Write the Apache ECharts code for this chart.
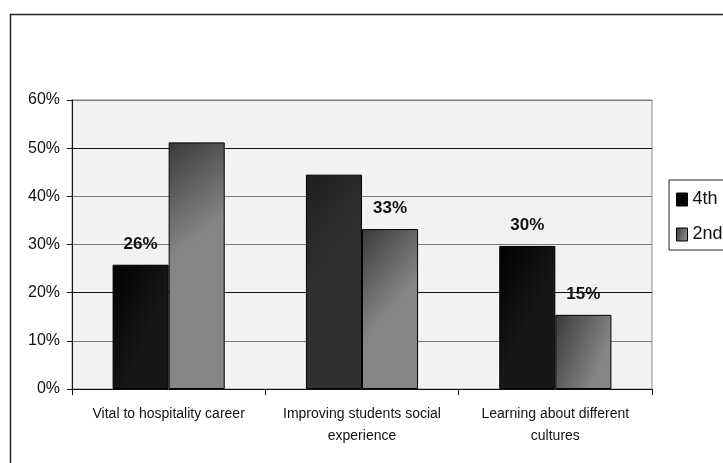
<!DOCTYPE html>
<html>
<head>
<meta charset="utf-8">
<script src="https://cdn.jsdelivr.net/npm/echarts@6/dist/echarts.min.js"></script>
<style>
html,body{margin:0;padding:0;background:#fff;}
#chart{width:723px;height:463px;}
</style>
</head>
<body>
<div id="chart"></div>
<script>
const categories = ['Vital to hospitality career', 'Improving students social\nexperience', 'Learning about different\ncultures'];
const seriesNames = ['4th', '2nd'];
const values4th = [25.8, 44.5, 29.7];
const values2nd = [51.2, 33.2, 15.4];
const labels4th = [true, false, true];
const labels2nd = [false, true, true];
const yTicks = [0, 10, 20, 30, 40, 50, 60];

const FONT = '"Liberation Sans", Arial, sans-serif';
const chart = echarts.init(document.getElementById('chart'), null, {renderer: 'canvas'});

function grad(c1, c2, y2) {
  return new echarts.graphic.LinearGradient(0, 0, 1, y2, [{offset: 0, color: c1}, {offset: 1, color: c2}]);
}
const dark4th = [grad('#000000', '#171717', 0.2), grad('#1e1e1e', '#303030', 0.2), grad('#000000', '#171717', 0.2)];
const gray2nd = grad('#3a3a3a', '#858585', 0.3);

function labelCfg(flags) {
  return {
    show: true,
    position: 'top',
    distance: 12,
    fontFamily: FONT,
    fontSize: 17,
    fontWeight: 'bold',
    color: '#111',
    formatter: p => flags[p.dataIndex] ? Math.round(p.value) + '%' : ''
  };
}

chart.setOption({
  animation: false,
  backgroundColor: '#ffffff',
  graphic: [{
    type: 'rect', left: 8, top: 12, z: 100, silent: true,
    shape: {x: 0, y: 0, width: 800, height: 600},
    style: {fill: 'none', stroke: '#222', lineWidth: 1.5}
  }],
  grid: {
    left: 72, right: 71, top: 100, bottom: 74,
    show: true, backgroundColor: '#f2f2f2', borderColor: '#888', borderWidth: 1
  },
  legend: {
    left: 669, top: 180, orient: 'vertical',
    itemWidth: 11, itemHeight: 13, itemGap: 14,
    padding: [9, 40, 5, 7],
    borderColor: '#222', borderWidth: 1, backgroundColor: '#fff',
    icon: 'rect',
    textStyle: {fontFamily: FONT, fontSize: 18, lineHeight: 21, color: '#111'},
    data: [
      {name: seriesNames[0], itemStyle: {color: '#050505', borderColor: '#000', borderWidth: 1}},
      {name: seriesNames[1], itemStyle: {color: gray2nd, borderColor: '#000', borderWidth: 1}}
    ]
  },
  xAxis: {
    type: 'category',
    data: categories,
    axisLine: {lineStyle: {color: '#111', width: 1}},
    axisTick: {show: true, length: 6, lineStyle: {color: '#111'}},
    axisLabel: {fontFamily: FONT, fontSize: 14, lineHeight: 22, color: '#111', margin: 14, interval: 0}
  },
  yAxis: {
    type: 'value',
    min: yTicks[0], max: yTicks[yTicks.length - 1], interval: 10,
    axisLine: {show: true, lineStyle: {color: '#111', width: 1}},
    axisTick: {show: true, length: 5, lineStyle: {color: '#111'}},
    axisLabel: {fontFamily: FONT, fontSize: 16, color: '#111', margin: 12, formatter: '{value}%'},
    splitLine: {show: true, lineStyle: {color: ['#111', '#7a7a7a', '#111', '#7a7a7a', '#7a7a7a', '#111', '#7a7a7a'], width: 1}}
  },
  series: [
    {
      name: seriesNames[0], type: 'bar', data: values4th,
      barGap: '0%', barCategoryGap: '42%',
      itemStyle: {color: p => dark4th[p.dataIndex] || '#000', borderColor: '#000', borderWidth: 1},
      label: labelCfg(labels4th)
    },
    {
      name: seriesNames[1], type: 'bar', data: values2nd,
      barGap: '0%', barCategoryGap: '42%',
      itemStyle: {color: gray2nd, borderColor: '#000', borderWidth: 1},
      label: labelCfg(labels2nd)
    }
  ]
});
</script>
</body>
</html>
